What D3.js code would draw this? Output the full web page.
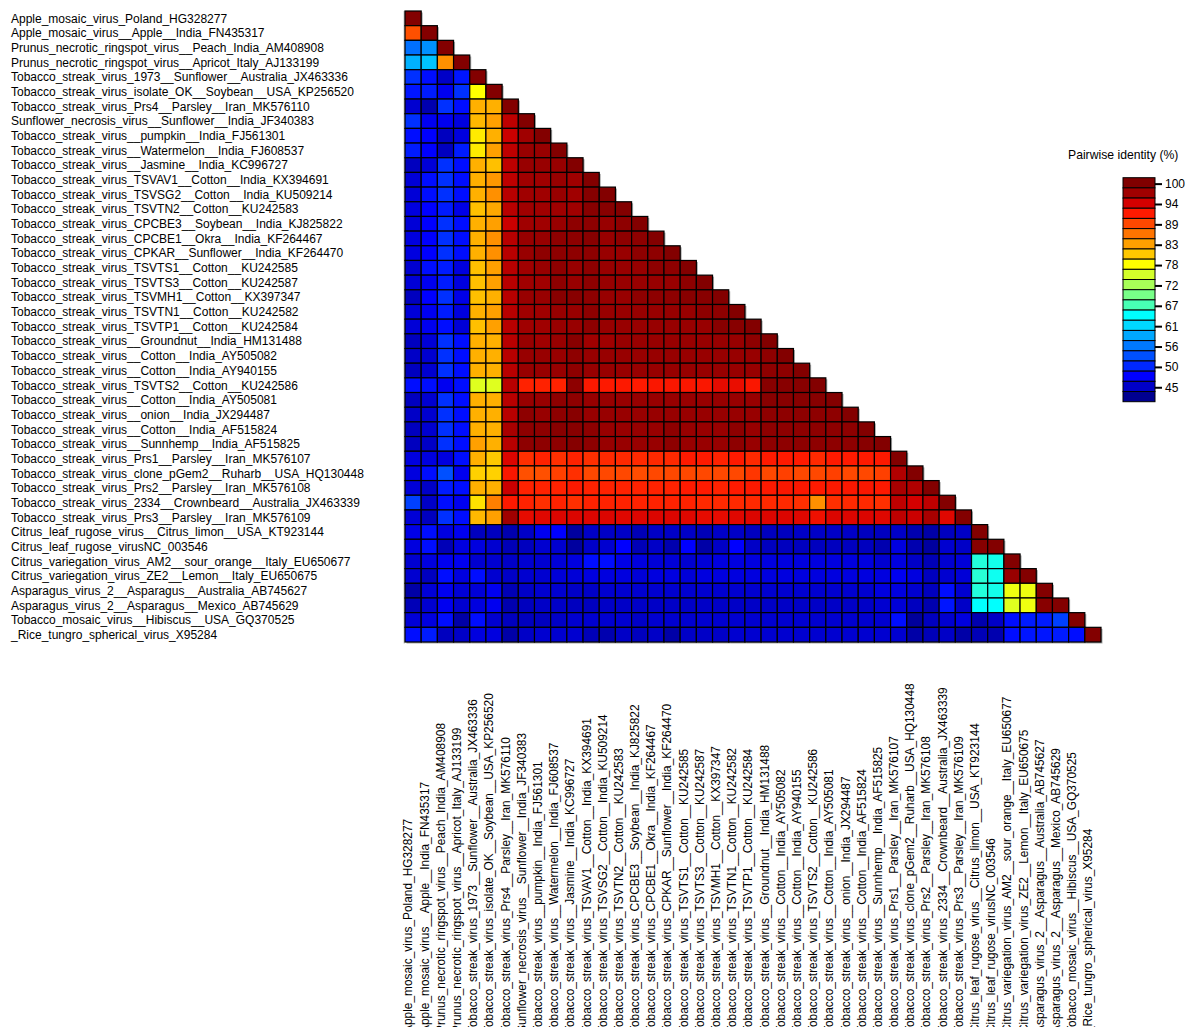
<!DOCTYPE html>
<html>
<head>
<meta charset="utf-8">
<script src="https://cdn.jsdelivr.net/npm/d3@7"></script>
<style>
body { margin: 0; background: #fff; }
svg text { font-family: "Liberation Sans", Arial, sans-serif; fill: #000; }
</style>
</head>
<body>
<div id="chart"></div>
<script>
// Sequence names (rows top to bottom, columns left to right)
const names = [
  "Apple_mosaic_virus_Poland_HG328277",
  "Apple_mosaic_virus__Apple__India_FN435317",
  "Prunus_necrotic_ringspot_virus__Peach_India_AM408908",
  "Prunus_necrotic_ringspot_virus__Apricot_Italy_AJ133199",
  "Tobacco_streak_virus_1973__Sunflower__Australia_JX463336",
  "Tobacco_streak_virus_isolate_OK__Soybean__USA_KP256520",
  "Tobacco_streak_virus_Prs4__Parsley__Iran_MK576110",
  "Sunflower_necrosis_virus__Sunflower__India_JF340383",
  "Tobacco_streak_virus__pumpkin__India_FJ561301",
  "Tobacco_streak_virus__Watermelon__India_FJ608537",
  "Tobacco_streak_virus__Jasmine__India_KC996727",
  "Tobacco_streak_virus_TSVAV1__Cotton__India_KX394691",
  "Tobacco_streak_virus_TSVSG2__Cotton__India_KU509214",
  "Tobacco_streak_virus_TSVTN2__Cotton__KU242583",
  "Tobacco_streak_virus_CPCBE3__Soybean__India_KJ825822",
  "Tobacco_streak_virus_CPCBE1__Okra__India_KF264467",
  "Tobacco_streak_virus_CPKAR__Sunflower__India_KF264470",
  "Tobacco_streak_virus_TSVTS1__Cotton__KU242585",
  "Tobacco_streak_virus_TSVTS3__Cotton__KU242587",
  "Tobacco_streak_virus_TSVMH1__Cotton__KX397347",
  "Tobacco_streak_virus_TSVTN1__Cotton__KU242582",
  "Tobacco_streak_virus_TSVTP1__Cotton__KU242584",
  "Tobacco_streak_virus__Groundnut__India_HM131488",
  "Tobacco_streak_virus__Cotton__India_AY505082",
  "Tobacco_streak_virus__Cotton__India_AY940155",
  "Tobacco_streak_virus_TSVTS2__Cotton__KU242586",
  "Tobacco_streak_virus__Cotton__India_AY505081",
  "Tobacco_streak_virus__onion__India_JX294487",
  "Tobacco_streak_virus__Cotton__India_AF515824",
  "Tobacco_streak_virus__Sunnhemp__India_AF515825",
  "Tobacco_streak_virus_Prs1__Parsley__Iran_MK576107",
  "Tobacco_streak_virus_clone_pGem2__Ruharb__USA_HQ130448",
  "Tobacco_streak_virus_Prs2__Parsley__Iran_MK576108",
  "Tobacco_streak_virus_2334__Crownbeard__Australia_JX463339",
  "Tobacco_streak_virus_Prs3__Parsley__Iran_MK576109",
  "Citrus_leaf_rugose_virus__Citrus_limon__USA_KT923144",
  "Citrus_leaf_rugose_virusNC_003546",
  "Citrus_variegation_virus_AM2__sour_orange__Italy_EU650677",
  "Citrus_variegation_virus_ZE2__Lemon__Italy_EU650675",
  "Asparagus_virus_2__Asparagus__Australia_AB745627",
  "Asparagus_virus_2__Asparagus__Mexico_AB745629",
  "Tobacco_mosaic_virus__Hibiscus__USA_GQ370525",
  "_Rice_tungro_spherical_virus_X95284"
];

// Pairwise identity (%), lower triangle, one row per sequence
const identity = [
  [100],
  [88.7, 100],
  [55.7, 57.6, 100],
  [59.5, 60.5, 84.7, 100],
  [51.3, 48.9, 45.2, 49.4, 100],
  [49.4, 49.8, 47.2, 51.3, 78.2, 100],
  [45.6, 44.0, 51.3, 48.9, 82.6, 82.6, 100],
  [51.3, 47.2, 47.2, 46.4, 82.1, 83.7, 95.9, 100],
  [48.9, 48, 44.8, 46.4, 79.2, 82.6, 95.2, 97.5, 100],
  [49.8, 48, 44.8, 49.8, 79.2, 83.7, 95.9, 98.2, 98.2, 100],
  [44.8, 46, 51.3, 48.9, 82.6, 81.5, 95.9, 98.2, 98.2, 98.2, 100],
  [46, 48.9, 51.3, 48.9, 82.6, 84.2, 95.9, 97.5, 97.5, 98.2, 97.5, 100],
  [46, 48.9, 51.3, 48.9, 82.6, 84.7, 96.2, 97.5, 97.5, 98.2, 97.5, 99.7, 100],
  [46.4, 48, 49.8, 46.8, 81.5, 83.2, 96.2, 97.5, 97.5, 97.5, 97.5, 99.5, 99.5, 100],
  [46, 48, 51.3, 48.9, 82.6, 83.7, 95.2, 97.5, 97.5, 98.2, 99, 99, 98.2, 99, 100],
  [46.4, 48, 51.3, 48.9, 82.6, 84.7, 96.2, 98.2, 98.2, 99, 99, 99.5, 98.2, 99, 99, 100],
  [46.4, 48, 51.3, 48.9, 82.6, 84.7, 96.2, 98.2, 99, 99, 99, 99, 98.2, 98.2, 99, 99, 100],
  [45.6, 48.9, 49.8, 46.4, 81.5, 83.7, 96.2, 97.5, 98.2, 99, 98.2, 99, 98.2, 98.2, 98.2, 99, 99, 100],
  [46, 47.2, 49.8, 46.4, 81.5, 83.7, 96.2, 97.5, 97.5, 99, 98.2, 99, 98.2, 98.2, 98.2, 98.2, 98.2, 99, 100],
  [44.8, 48, 51.3, 46.8, 81.5, 82.6, 96.2, 98.2, 98.2, 99.5, 99.5, 99, 98.2, 98.2, 99, 99, 99, 99.5, 99.5, 100],
  [46, 47.2, 49.8, 46.4, 82.6, 83.7, 96.2, 97.5, 97.5, 98.2, 98.2, 99, 98.2, 98.2, 98.2, 98.2, 98.2, 98.2, 99, 99, 100],
  [46, 47.2, 48.9, 46, 81.5, 83.7, 96.2, 97.5, 97.5, 98.2, 98.2, 99, 98.2, 98.2, 98.2, 98.2, 98.2, 98.2, 98.2, 99.5, 99.5, 100],
  [44.8, 46, 51.3, 48.9, 82.6, 82.6, 96.2, 98.2, 97.5, 98.2, 99.5, 97.5, 97.5, 98.2, 98.2, 98.2, 98.2, 98.2, 98.2, 98.2, 98.2, 99, 100],
  [45.2, 45.6, 51.3, 48.9, 82.6, 82.6, 96.2, 98.2, 98.2, 98.2, 99, 98.2, 98.2, 98.2, 98.2, 98.2, 98.2, 98.2, 98.2, 98.2, 98.2, 98.2, 99, 100],
  [44.8, 45.6, 51.3, 48.9, 82.6, 82.6, 96.2, 98.2, 98.2, 98.2, 99, 98.2, 98.2, 98.2, 98.2, 98.2, 98.2, 98.2, 98.2, 98.2, 98.2, 98.2, 99, 99, 100],
  [48.9, 48.9, 47.2, 48.9, 76.2, 76.2, 96.2, 91.5, 91.5, 91.5, 99, 92.1, 92.1, 92.1, 92, 92.3, 92.3, 92.3, 92.3, 93.6, 93.3, 92.3, 99.5, 99.5, 99.5, 100],
  [44.8, 45.6, 51.3, 48.9, 82.6, 82.6, 96.2, 98.2, 98.2, 99, 99, 98.2, 98.2, 98.2, 98.2, 98.2, 98.2, 98.2, 98.2, 98.2, 98.2, 98.2, 99.5, 99.5, 99.5, 99.5, 100],
  [45.2, 45.6, 51.3, 48.9, 82.6, 82.6, 96.2, 99, 98.2, 99, 99.5, 98.2, 98.2, 98.2, 98.2, 98.2, 98.2, 98.2, 98.2, 98.2, 98.2, 98.2, 99, 99, 99, 99, 99, 100],
  [44.8, 45.6, 51.3, 48.9, 82.6, 82.6, 97, 99, 99, 99.5, 99.5, 99, 98.2, 98.2, 98.2, 98.2, 99, 98.2, 98.2, 98.2, 99, 98.2, 99, 99, 99, 99, 99, 99, 100],
  [44.8, 45.2, 51.3, 48.9, 83.7, 82.6, 96.2, 99, 99, 99, 99.7, 99, 98.2, 98.2, 98.2, 98.2, 99, 98.2, 98.2, 98.2, 99, 98.2, 99, 99, 99, 99, 99, 99, 99.5, 100],
  [46.4, 46.4, 46.4, 48.9, 82.6, 81, 94.2, 90.7, 91.5, 90.7, 91.5, 90.7, 91.1, 91.1, 91.1, 91.1, 91.1, 92, 92, 91.5, 92, 91.1, 92, 92, 92, 91.1, 92, 92, 92, 92.1, 100],
  [46.4, 48.9, 53.5, 47.2, 80.5, 80.5, 92.3, 88.7, 88.7, 89.7, 90.7, 89.2, 89.2, 89.2, 89, 89.2, 89.2, 89.2, 89.2, 89.2, 89.2, 90.3, 89.2, 89.7, 89.2, 89.2, 89.7, 89.2, 89.2, 89.7, 96.6, 100],
  [46, 45.2, 49.8, 48.9, 82.6, 82.6, 95.2, 91.5, 91.5, 91.5, 92.1, 91.5, 91.5, 91.5, 91.5, 91.5, 91.5, 92, 92, 91.5, 92, 92.1, 92.1, 92.3, 92.3, 92, 92.1, 92.3, 92.3, 92.1, 97, 96.6, 100],
  [52.4, 45.2, 48.9, 47.2, 79.7, 85.8, 92.1, 91.5, 90.7, 91.5, 90.7, 91.5, 91.5, 91.5, 91.5, 91.5, 91.5, 91.5, 91.1, 91.1, 91.1, 91.1, 91.1, 91.1, 90.7, 84.7, 90.7, 91.1, 91.1, 90.7, 95.9, 94.7, 95.9, 100],
  [46, 44.8, 51.3, 48.9, 82.1, 83.7, 97.5, 93.6, 94, 94.2, 94.2, 94.2, 94.2, 94, 94.2, 94.2, 94.2, 94, 93.6, 93.6, 94, 94.2, 94.2, 94.2, 94, 93, 94.2, 94.2, 94.2, 94, 95.9, 95.2, 97, 94, 100],
  [46.8, 48.9, 46.4, 47.2, 44.8, 44.8, 44, 45.2, 47.2, 48, 43.2, 45.2, 45.2, 45.2, 44.4, 45.2, 45.2, 45.2, 44.4, 45.2, 45.2, 44.8, 44.8, 44.8, 45.2, 45.2, 45.2, 45.2, 44.8, 44.8, 45.2, 44, 43.6, 44.8, 45.2, 100],
  [46.4, 48.9, 44.4, 46.4, 46.4, 45.6, 44.4, 44.8, 45.6, 45.6, 43.2, 45.2, 45.6, 48, 44.4, 45.2, 44, 48, 43.6, 45.2, 48, 45.2, 44.8, 44.8, 44.8, 44.8, 44.8, 44.8, 44.8, 44, 46.4, 44, 43.2, 45.6, 45.2, 99.7, 100],
  [45.6, 46.4, 47.2, 47.2, 45.6, 45.6, 45.2, 45.6, 45.6, 46, 46.4, 48.9, 48.9, 46.8, 46.4, 46, 46, 45.6, 46, 46.4, 46.4, 46.4, 46.4, 46.4, 46.4, 46.4, 46.4, 46.4, 46.4, 45.6, 46.4, 45.2, 44.4, 45.6, 46, 65.8, 65.2, 100],
  [45.6, 44.8, 48.9, 46.4, 48.9, 45.6, 45.2, 45.6, 45.6, 46, 46, 46.4, 46.4, 46.4, 46, 46.4, 46.4, 46, 46.4, 46.4, 46.4, 46.4, 46.4, 46.4, 46.4, 46.4, 46.4, 46.4, 46.4, 46.4, 47.2, 46.4, 44.8, 45.6, 46, 66, 65, 98.2, 100],
  [43.6, 46, 47.2, 46, 46, 47.2, 44.4, 45.2, 45.6, 45.6, 45.2, 45.2, 45.6, 45.6, 45.6, 45.6, 45.6, 45.6, 45.6, 45.6, 45.6, 45.6, 45.6, 45.6, 45.6, 45.6, 45.6, 45.6, 45.6, 46.4, 46.4, 45.6, 44.8, 48.9, 45.6, 65.8, 65.2, 77.2, 77.2, 100],
  [44.4, 45.6, 47.2, 45.6, 46.4, 47.2, 44, 44.8, 45.2, 45.2, 44.8, 44.8, 45.2, 45.2, 45.2, 45.2, 45.2, 45.2, 45.2, 45.2, 45.2, 45.2, 45.2, 45.2, 45.2, 45.2, 45.2, 45.2, 45.2, 45.6, 46, 44.8, 44, 49.4, 45.2, 64.5, 64.5, 76.2, 77.2, 99.5, 100],
  [46, 46.4, 48.9, 43.6, 48.9, 45.6, 44.8, 44.8, 44.8, 45.2, 45.6, 45.6, 45.6, 45.6, 45.2, 45.6, 45.6, 45.6, 45.6, 45.6, 45.6, 45.6, 45.6, 45.6, 45.6, 45.6, 45.6, 45.6, 45.6, 45.6, 48.9, 43, 44.8, 45.6, 46.4, 44, 45.2, 48.9, 49.8, 49.8, 52.4, 100],
  [48.9, 49.8, 44.8, 45.2, 46.4, 46.4, 43.6, 45.2, 45.6, 45.6, 45.6, 44.4, 44, 45.2, 44.8, 45.2, 43.6, 45.2, 45.2, 45.2, 45.6, 45.6, 45.6, 45.6, 45.6, 45.6, 45.6, 45.6, 45.6, 45.6, 45.6, 43.6, 44.4, 45.2, 43.6, 44.4, 44, 48.9, 49.4, 49.4, 49.8, 48.9, 100]
];

// Colour key, top (high identity) to bottom
const legendColors = [
  "#800000", "#a00000", "#d40000", "#ff1a00", "#ff4800", "#ff7400", "#ffa000", "#ffc800",
  "#ffff00", "#d4ff2a", "#a8ff58", "#78ff88", "#48ffb4", "#00ffff", "#00d8ff", "#00a8ff",
  "#0078ff", "#0050ff", "#0028ff", "#0000ff", "#0000c8", "#000090"
];
const legendTicks = [100, 94.5, 89, 83.5, 78, 72.5, 67, 61.5, 56, 50.5, 45];
const legendMax = 101.6, legendMin = 41.1;

const width = 1185, height = 1027;
const grid = {left: 405, top: 11, right: 1101, bottom: 642};

const svg = d3.select("#chart")
  .append("svg")
  .attr("width", width)
  .attr("height", height);

const x = d3.scaleBand().domain(d3.range(names.length)).range([grid.left, grid.right]);
const y = d3.scaleBand().domain(d3.range(names.length)).range([grid.top, grid.bottom]);

// Legend scale and matching continuous colour scale
const legendY = d3.scaleLinear().domain([legendMax, legendMin]).range([177.7, 401.7]);
const step = (legendMax - legendMin) / legendColors.length;
const color = d3.scaleLinear()
  .domain(legendColors.map((c, i) => legendMax - step * (i + 0.5)))
  .range(legendColors)
  .clamp(true);

const cells = identity.flatMap((row, i) => row.map((v, j) => ({i, j, v})));

// Grey shadow behind the triangle
svg.append("g")
  .selectAll("rect")
  .data(cells)
  .join("rect")
  .attr("x", d => x(d.j) + 1.5)
  .attr("y", d => y(d.i) + 1.5)
  .attr("width", x.bandwidth())
  .attr("height", y.bandwidth())
  .attr("fill", "#a8a8a8");

// Left edge line of the grid
svg.append("line")
  .attr("x1", grid.left - 0.8).attr("x2", grid.left - 0.8)
  .attr("y1", grid.top).attr("y2", grid.bottom + 1.5)
  .attr("stroke", "#a8a8a8")
  .attr("stroke-width", 1);

svg.append("g")
  .selectAll("rect")
  .data(cells)
  .join("rect")
  .attr("x", d => x(d.j))
  .attr("y", d => y(d.i))
  .attr("width", x.bandwidth())
  .attr("height", y.bandwidth())
  .attr("fill", d => color(d.v))
  .attr("stroke", "#000")
  .attr("stroke-width", 1.2);

// Row labels
svg.append("g")
  .selectAll("text")
  .data(names)
  .join("text")
  .attr("x", 11)
  .attr("y", (d, i) => y(i) + y.bandwidth() / 2)
  .attr("dy", "0.36em")
  .style("font-size", "12px")
  .text(d => d);

// Column labels, reading upwards
svg.append("g")
  .selectAll("text")
  .data(names)
  .join("text")
  .attr("transform", (d, i) => `translate(${x(i) + x.bandwidth() / 2 - 0.6},1033) rotate(-90)`)
  .style("font-size", "11.9px")
  .text(d => d);

// Legend
const legend = svg.append("g");

legend.append("text")
  .attr("x", 1068)
  .attr("y", 159)
  .style("font-size", "12.2px")
  .text("Pairwise identity (%)");

legend.selectAll("rect")
  .data(legendColors)
  .join("rect")
  .attr("x", 1123)
  .attr("width", 32)
  .attr("y", (c, i) => legendY(legendMax - step * i))
  .attr("height", (c, i) => legendY(legendMax - step * (i + 1)) - legendY(legendMax - step * i))
  .attr("fill", c => c)
  .attr("stroke", "#000")
  .attr("stroke-width", 1);

legend.append("g")
  .attr("transform", "translate(1155,0)")
  .call(d3.axisRight(legendY).tickValues(legendTicks).tickFormat(d => Math.floor(d)).tickSize(7).tickPadding(3))
  .call(g => g.select(".domain").remove())
  .call(g => g.selectAll(".tick line").attr("stroke", "#000").attr("stroke-width", 2))
  .call(g => g.selectAll(".tick text")
    .attr("fill", "#000")
    .style("font-family", "'Liberation Sans', Arial, sans-serif")
    .style("font-size", "12px"));
</script>
</body>
</html>
